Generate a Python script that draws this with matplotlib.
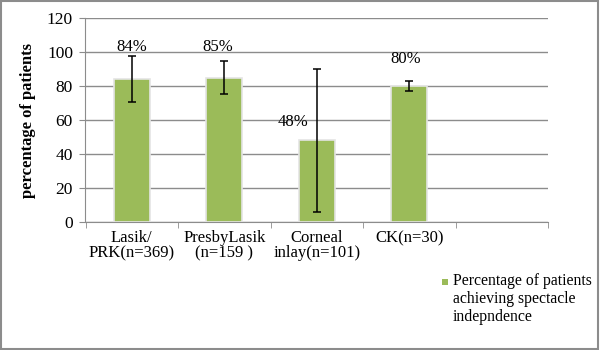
import numpy as np
import matplotlib.pyplot as plt
from matplotlib.patches import Rectangle

plt.rcParams['font.family'] = ['Liberation Serif', 'DejaVu Serif']

# data
categories = ['Lasik/\nPRK(n=369)', 'PresbyLasik\n(n=159 )', 'Corneal\ninlay(n=101)', 'CK(n=30)', '']
values = [84, 85, 48, 80]
errors = [13.5, 10, 42, 3]
labels = ['84%', '85%', '48%', '80%']
label_x = [0.0, -0.07, -0.26, -0.04]
label_y = [103, 103, 59, 96]
series_name = 'Percentage of patients\nachieving spectacle\nindepndence'

green = '#9BBB59'
gridc = '#8c8c8c'

fig = plt.figure(figsize=(6, 3.5), dpi=100)
ax = fig.add_axes([85.5/600, 1 - 222/350, (548 - 85.5)/600, (222 - 18)/350])

x = np.arange(len(values))
bars = ax.bar(x, values, width=0.39, color=green, edgecolor='#e4e4e4', linewidth=1.2,
              label=series_name, zorder=3)
ax.errorbar(x, values, yerr=errors, fmt='none', ecolor='black', elinewidth=1.1,
            capsize=3, capthick=1.1, zorder=4)

for i, t in enumerate(labels):
    ax.text(x[i] + label_x[i], label_y[i], t, ha='center', va='center', fontsize=12)

ax.set_xlim(-0.5, len(categories) - 0.5)
ax.set_ylim(0, 120)
ax.set_yticks(np.arange(0, 121, 20))
ax.set_xticks(np.arange(len(categories) + 1) - 0.5, minor=True)
ax.set_xticks(np.arange(len(categories)))
ax.set_xticklabels(categories, fontsize=12, linespacing=0.9)
ax.tick_params(axis='x', which='major', length=0, pad=6)
ax.tick_params(axis='x', which='minor', length=4, color=gridc, direction='out')
ax.tick_params(axis='y', length=4, color=gridc, labelsize=12.5, pad=5)
ax.yaxis.grid(True, color=gridc, linewidth=1)
ax.set_axisbelow(True)
for s in ['top', 'right']:
    ax.spines[s].set_visible(False)
for s in ['left', 'bottom']:
    ax.spines[s].set_color(gridc)
ax.set_ylabel('percentage of patients', fontsize=12, fontweight='bold', labelpad=8)

# legend: square key aligned with the first text line
fig.patches.append(Rectangle((442/600, 1 - 285/350), 6/600, 6/350, transform=fig.transFigure,
                             facecolor=green, edgecolor='none'))
fig.text(453/600, 1 - 273/350, series_name, ha='left', va='top', fontsize=11.3,
         linespacing=1.15)

fig.patches.append(Rectangle((0.002, 0.003), 0.995, 0.994, transform=fig.transFigure,
                             fill=False, edgecolor='#8c8c8c', linewidth=1.5))

plt.savefig('out.png', dpi=100)
